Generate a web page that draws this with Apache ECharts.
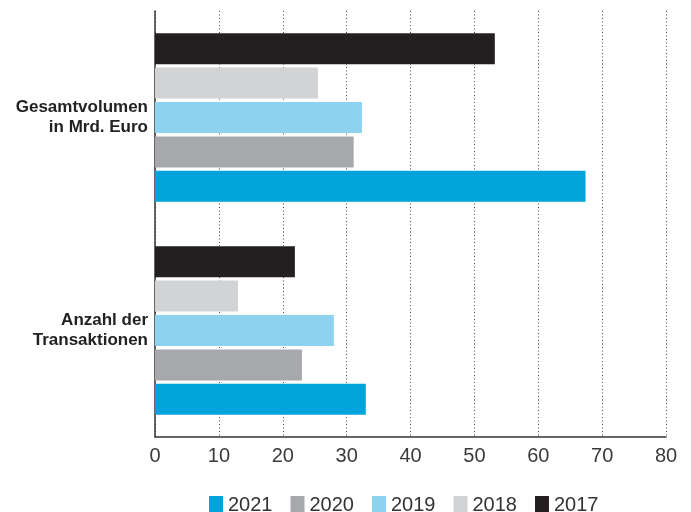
<!DOCTYPE html>
<html>
<head>
<meta charset="utf-8">
<script src="https://cdn.jsdelivr.net/npm/echarts@6/dist/echarts.min.js"></script>
<style>html,body{margin:0;padding:0;background:#fff}#c{width:691px;height:512px}</style>
</head>
<body>
<div id="c"></div>
<script>
const categories = ['Anzahl der\nTransaktionen', 'Gesamtvolumen\nin Mrd. Euro'];
const years = ['2021', '2020', '2019', '2018', '2017'];
const v2021 = [33.0, 67.4];
const v2020 = [23.0, 31.1];
const v2019 = [28.0, 32.4];
const v2018 = [13.0, 25.5];
const v2017 = [21.9, 53.2];
const xTicks = [0, 10, 20, 30, 40, 50, 60, 70, 80];
const colors = {'2021': '#00a3da', '2020': '#a7a8ab', '2019': '#8dd3ef', '2018': '#d1d3d4', '2017': '#231f20'};

const valuesByYear = {'2021': v2021, '2020': v2020, '2019': v2019, '2018': v2018, '2017': v2017};
// series drawn top-to-bottom within each band: 2017 first
const seriesOrder = years.slice().reverse();
const chart = echarts.init(document.getElementById('c'), null, {renderer: 'canvas'});
chart.setOption({
  animation: false,
  backgroundColor: '#fff',
  grid: {left: 155, right: 25, top: 11, bottom: 75, containLabel: false},
  legend: {
    left: 209,
    top: 495,
    padding: 0,
    itemWidth: 14,
    itemHeight: 18,
    itemGap: 18,
    icon: 'rect',
    data: years,
    textStyle: {fontFamily: 'Liberation Sans, Arial, sans-serif', fontSize: 20, color: '#333'}
  },
  xAxis: {
    type: 'value',
    min: xTicks[0],
    max: xTicks[xTicks.length - 1],
    interval: 10,
    axisLine: {show: true, lineStyle: {color: '#333', width: 1.5}},
    axisTick: {show: false},
    axisLabel: {fontFamily: 'Liberation Sans, Arial, sans-serif', fontSize: 20, color: '#3a3a3a', margin: 9},
    splitLine: {show: true, lineStyle: {color: '#444', type: [1, 2.5], width: 1}}
  },
  yAxis: {
    type: 'category',
    data: categories,
    axisLine: {show: true, lineStyle: {color: '#333', width: 1.5}},
    axisTick: {show: false},
    axisLabel: {fontFamily: 'Liberation Sans, Arial, sans-serif', fontWeight: 'bold', fontSize: 17, color: '#222', lineHeight: 20, margin: 7, align: 'right'}
  },
  series: seriesOrder.map(y => ({
    name: y,
    type: 'bar',
    data: valuesByYear[y],
    barWidth: 31,
    barGap: '11%',
    itemStyle: {color: colors[y]}
  }))
});
</script>
</body>
</html>
